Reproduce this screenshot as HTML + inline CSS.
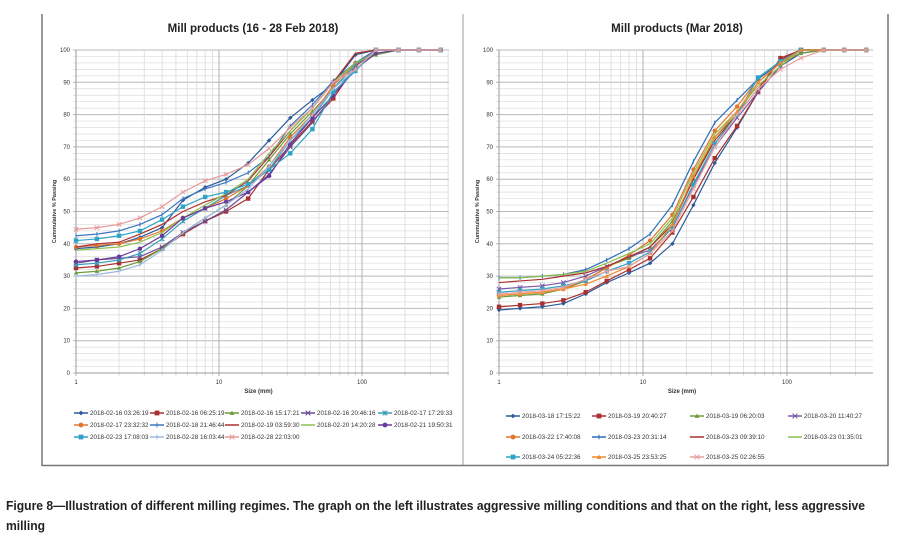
<!DOCTYPE html>
<html><head><meta charset="utf-8">
<style>
body{margin:0;width:897px;height:544px;background:#fff;overflow:hidden;font-family:"Liberation Sans",sans-serif}
#cap{position:absolute;left:6px;top:496px;width:900px;font-weight:bold;font-size:12.5px;line-height:20px;color:#222;transform:scaleX(0.97);transform-origin:0 0;white-space:nowrap}
</style></head>
<body>
<svg id="svg" width="897" height="544" style="position:absolute;left:0;top:0" font-family="Liberation Sans, sans-serif">
<line x1="42" y1="14" x2="42" y2="466" stroke="#777" stroke-width="1.5"/>
<line x1="463" y1="14" x2="463" y2="466" stroke="#999" stroke-width="1"/>
<line x1="888" y1="14" x2="888" y2="466" stroke="#777" stroke-width="1.5"/>
<line x1="42" y1="465.5" x2="888" y2="465.5" stroke="#777" stroke-width="1.5"/>
</svg>
<div id="cap">Figure 8—Illustration of different milling regimes. The graph on the left illustrates aggressive milling conditions and that on the right, less aggressive<br>milling</div>
<script>
const sizes=[1,1.4,2,2.8,4,5.6,8,11.2,16,22.4,31.5,45,63,90,125,180,250,355];
const yTicks=[0,10,20,30,40,50,60,70,80,90,100];
const xTicks=[1,10,100];
const leftNames=["2018-02-16 03:26:19","2018-02-16 06:25:19","2018-02-16 15:17:21","2018-02-16 20:46:16","2018-02-17 17:29:33","2018-02-17 23:32:32","2018-02-18 21:46:44","2018-02-19 03:59:30","2018-02-20 14:20:28","2018-02-21 19:50:31","2018-02-23 17:08:03","2018-02-28 16:03:44","2018-02-28 22:03:00"];
const L1=[38.5,39,40,42,45,53.5,57.5,60,65,72,79,84.5,89.5,98.5,100,100,100,100];
const L2=[32.5,33,34,35,38.5,43,47,50,54,63,70.5,78,85,95,100,100,100,100];
const L3=[31,31.5,32.5,34.5,38.5,43.5,48,52,58,66,74,81,88,95.5,98.5,100,100,100];
const L4=[34,35,35.5,36,39,43.5,47,50.5,56,61.5,70,77.5,86,95,100,100,100,100];
const L5=[33.5,34,35,37,41.5,47,51,55,58,63,72,79,88,95.5,100,100,100,100];
const L6=[39,39.5,40,41.5,44,48,51,54,58,64,73,80,89,96,100,100,100,100];
const L7=[42.5,43,44,46,49,54,57,59,62,67,76.5,83,90.5,96,100,100,100,100];
const L8=[39,40,40.5,43,46,50,53,55,59.5,67,75,82,90,99,100,100,100,100];
const L9=[38,38.5,39,40.5,43.5,48,52,55.5,60,68,75,82,90,96,99,100,100,100];
const L10=[34.5,35,36,38.5,42.5,48,51,53,56,61,71,79,86,94,99,100,100,100];
const L11=[41,41.5,42.5,44,47.5,51.5,54.5,56,58.5,63,68,75.5,87,93.5,100,100,100,100];
const L12=[30,30.5,31.5,33.5,38,43.5,48,52,57,64,72,80,88,94,100,100,100,100];
const L13=[44.5,45,46,48,51.5,56,59.5,61.5,64.5,69.5,76,82,90,94,100,100,100,100];
const rightNames=["2018-03-18 17:15:22","2018-03-19 20:40:27","2018-03-19 06:20:03","2018-03-20 11:40:27","2018-03-22 17:40:08","2018-03-23 20:31:14","2018-03-23 09:39:10","2018-03-23 01:35:01","2018-03-24 05:22:36","2018-03-25 23:53:25","2018-03-25 02:26:55"];
const R1=[19.5,20,20.5,21.5,24.5,28,31,34,40,52,65,76,87,95,99,100,100,100];
const R2=[20.5,21,21.5,22.5,25,28.5,32,35.5,43.5,54.5,66.5,76.5,87,97.5,100,100,100,100];
const R3=[23.5,24,24.5,26,28.5,33,35.5,39,47,60,73,80,90,96,99,100,100,100];
const R4=[26,26.5,27,28,30,33,36,38,45,58,70,79,87,95,100,100,100,100];
const R5=[24,24.5,25,26,29,32.5,36.5,41,49,63,75,82.5,91,96,100,100,100,100];
const R6=[29.5,29.5,30,30.5,32,35,38.5,43,52,65.5,77.5,84.5,91,96,100,100,100,100];
const R7=[28,28.5,29,30,31,33,36,39,46,60,72,80,88,97,100,100,100,100];
const R8=[29.5,29.5,30,30.5,31.5,34,37,40,48,62,74,81,89,95,100,100,100,100];
const R9=[25,25.5,26,27,28.5,31.5,34,37.5,45,58.5,71,80,91.5,96.5,100,100,100,100];
const R10=[24,24.5,25,26,27.5,30,33,37,46,61,73,81,90,96,100,100,100,100];
const R11=[24.5,25,25.5,26.5,29,31.5,33,37,44,57,70,80,88,94,97.5,100,100,100];

const NS="http://www.w3.org/2000/svg";
const svg=document.getElementById('svg');
function mk(tag,at,parent){const e=document.createElementNS(NS,tag);for(const k in at)e.setAttribute(k,at[k]);(parent||svg).appendChild(e);return e;}
const leftStyle=[["#2A5A9A","diamond"],["#A8302E","square"],["#6E9A3A","triangle"],["#6A4C93","x"],["#3A9CB8","star"],["#E0752E","circle"],["#3B78C0","plus"],["#B0302E","none"],["#8CC050","none"],["#6A3A9A","circle"],["#2EA3C6","square"],["#9DB8E0","plus"],["#E89A9A","x"]];
const rightStyle=[["#2A5A9A","diamond"],["#A8302E","square"],["#6E9A3A","triangle"],["#7A5AA8","x"],["#E0752E","circle"],["#2E6EB8","plus"],["#A8302E","none"],["#8CC050","none"],["#2EA3C6","square"],["#F08A2E","triangle"],["#E8A0A0","x"]];

function marker(g,t,x,y,c,s){
  if(t==="diamond")mk('polygon',{points:`${x},${y-s} ${x+s},${y} ${x},${y+s} ${x-s},${y}`,fill:c},g);
  else if(t==="square")mk('rect',{x:x-s,y:y-s,width:2*s,height:2*s,fill:c},g);
  else if(t==="triangle")mk('polygon',{points:`${x},${y-s} ${x+s},${y+s*0.8} ${x-s},${y+s*0.8}`,fill:c},g);
  else if(t==="circle")mk('circle',{cx:x,cy:y,r:s,fill:c},g);
  else if(t==="x"||t==="star"){mk('path',{d:`M${x-s} ${y-s}L${x+s} ${y+s}M${x-s} ${y+s}L${x+s} ${y-s}`+(t==="star"?`M${x} ${y-s}L${x} ${y+s}`:''),stroke:c,'stroke-width':1},g);}
  else if(t==="plus")mk('path',{d:`M${x} ${y-s}L${x} ${y+s}`,stroke:c,'stroke-width':1},g);
}

function chart(cfg){
  const {x0,x1,px,y0,y1,names,series,styles,title,tcx,key}=cfg;
  const X=v=>x0+Math.log10(v)*px, Y=v=>y1-(v/100)*(y1-y0);
  const g=mk('g',{});
  
  
  const t=mk('text',{x:tcx,y:32,'text-anchor':'middle','font-size':'11.5','font-weight':'bold',fill:'#222'},g);
  t.textContent=title;
  
  
  const grid=mk('g',{},g);
  
  
  for(let v=0;v<=100;v+=2){mk('line',{x1:x0-3,x2:x1,y1:Y(v),y2:Y(v),stroke:v%10===0?'#b8b8b8':'#dcdcdc','stroke-width':v%10===0?1:0.7},grid);}
  const maxV=Math.pow(10,(x1-x0)/px);
  for(let d=1;d<=1000;d*=10)for(let m=1;m<=9;m++){const v=d*m;if(v>maxV)break;mk('line',{x1:X(v),x2:X(v),y1:y0,y2:y1+3,stroke:m===1?'#b0b0b0':'#d6d6d6','stroke-width':m===1?1:0.7},grid);}
  mk('line',{x1:x0,x2:x0,y1:y0,y2:y1,stroke:'#999'},grid);
  mk('line',{x1:x0,x2:x1,y1:y1,y2:y1,stroke:'#999'},grid);
  yTicks.forEach(v=>{const e=mk('text',{x:x0-6,y:Y(v)+2,'text-anchor':'end','font-size':'6',fill:'#333'},g);e.textContent=v;
    
    });
  xTicks.forEach(v=>{const e=mk('text',{x:X(v),y:y1+11,'text-anchor':'middle','font-size':'6',fill:'#333'},g);e.textContent=v;
    
    });
  const xt=mk('text',{x:(x0+x1)/2-4,y:y1+20,'text-anchor':'middle','font-size':'6','font-weight':'bold',fill:'#333'},g);xt.textContent='Size (mm)';
  
  
  const yt=mk('text',{x:0,y:0,'text-anchor':'middle','font-size':'5.5','font-weight':'bold',fill:'#333',transform:`translate(${x0-20},${(y0+y1)/2}) rotate(-90)`},g);yt.textContent='Cummulative % Passing';
  
  
  series.forEach((s,i)=>{
    const [c,m]=styles[i];
    const sg=mk('g',{},g);
    
    
    mk('polyline',{points:s.map((v,j)=>X(sizes[j])+','+Y(v)).join(' '),fill:'none',stroke:c,'stroke-width':1.2},sg);
    s.forEach((v,j)=>marker(sg,m,X(sizes[j]),Y(v),c,2.2));
  });
  names.forEach((n,i)=>{
    const [c,m]=styles[i];
    const lx=cfg.legX[i%cfg.cols], ly=cfg.legY[Math.floor(i/cfg.cols)];
    const lg=mk('g',{},g);
    
    
    mk('line',{x1:lx,x2:lx+14,y1:ly,y2:ly,stroke:c,'stroke-width':1.5},lg);
    marker(lg,m,lx+7,ly,c,2.4);
    const tx=mk('text',{x:lx+16,y:ly+2.2,'font-size':'6.3',fill:'#333'},lg);tx.textContent=n;
  });
}
chart({key:'left',x0:76,x1:449,px:143,y0:50,y1:373,names:leftNames,series:[L1,L2,L3,L4,L5,L6,L7,L8,L9,L10,L11,L12,L13],styles:leftStyle,title:'Mill products (16 - 28 Feb 2018)',tcx:253,legX:[74,150,225,301,378],legY:[413,425,437],cols:5});
chart({key:'right',x0:499,x1:873,px:144,y0:50,y1:373,names:rightNames,series:[R1,R2,R3,R4,R5,R6,R7,R8,R9,R10,R11],styles:rightStyle,title:'Mill products (Mar 2018)',tcx:677,legX:[506,592,690,788],legY:[416,437,457],cols:4});
</script>
</body></html>
